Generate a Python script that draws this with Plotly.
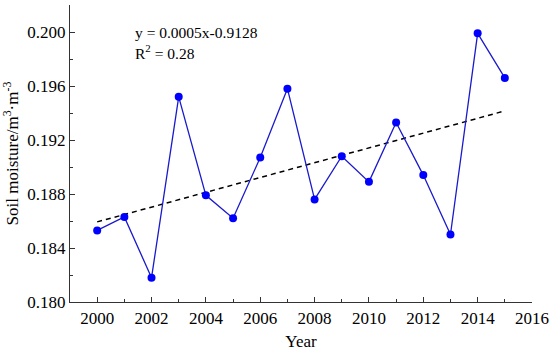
import numpy as np
import plotly.graph_objects as go

years = [2000, 2001, 2002, 2003, 2004, 2005, 2006, 2007, 2008, 2009, 2010, 2011, 2012, 2013, 2014, 2015]
moisture = [0.1853, 0.1863, 0.1818, 0.1952, 0.1879, 0.1862, 0.1907, 0.1958, 0.1876, 0.1908,
            0.1889, 0.1933, 0.1894, 0.1850, 0.1999, 0.1966]
x_ticks = [2000, 2002, 2004, 2006, 2008, 2010, 2012, 2014, 2016]
y_ticks = [0.180, 0.184, 0.188, 0.192, 0.196, 0.200]
eq_text = "y = 0.0005x-0.9128"
r2_text = "R<sup>2</sup> = 0.28"

slope, intercept = np.polyfit(years, moisture, 1)
trend_x = [years[0], years[-1]]
trend_y = [slope * v + intercept for v in trend_x]

FONT = "Liberation Serif"

fig = go.Figure()
fig.add_trace(go.Scatter(x=trend_x, y=trend_y, mode="lines",
                         line=dict(color="black", width=1.5, dash="5px,4px"),
                         showlegend=False, hoverinfo="skip"))
fig.add_trace(go.Scatter(x=years, y=moisture, mode="lines+markers",
                         line=dict(color="#1a1acc", width=1.3),
                         marker=dict(color="#0000ff", size=8),
                         showlegend=False))

fig.add_annotation(x=0.137, y=0.2, xref="paper", yref="y", text=eq_text, showarrow=False,
                   xanchor="left", yanchor="middle", font=dict(family=FONT, size=15.5, color="black"))
fig.add_annotation(x=0.137, y=0.1985, xref="paper", yref="y", text=r2_text, showarrow=False,
                   xanchor="left", yanchor="middle", font=dict(family=FONT, size=15.5, color="black"))

axis_common = dict(showline=True, linecolor="#333333", linewidth=1.2, showgrid=False,
                   zeroline=False, ticks="inside", ticklen=5, tickcolor="#333333", tickwidth=1,
                   automargin=False,
                   tickfont=dict(family=FONT, size=17, color="black"))

fig.update_xaxes(range=[1999, 2016], tickvals=x_ticks, ticktext=[str(v) for v in x_ticks],
                 title=dict(text="Year", font=dict(family=FONT, size=17, color="black"), standoff=12),
                 minor=dict(dtick=1, tick0=1999, ticks="inside", ticklen=3, tickcolor="#333333"),
                 **axis_common)
fig.update_yaxes(range=[0.180, 0.202], tickvals=y_ticks, ticktext=["%.3f" % v for v in y_ticks],
                 title=dict(text="Soil moisture/m<sup>3</sup>·m<sup>-3</sup>",
                            font=dict(family=FONT, size=17, color="black"), standoff=9),
                 minor=dict(dtick=0.002, tick0=0.180, ticks="inside", ticklen=3, tickcolor="#333333"),
                 **axis_common)

fig.update_layout(width=550, height=351, margin=dict(l=70, r=18, t=5, b=49),
                  plot_bgcolor="white", paper_bgcolor="white")

fig.write_html("out.html", config={"displayModeBar": False},
               post_script="document.body.style.margin='0px';document.body.style.overflow='hidden';")
